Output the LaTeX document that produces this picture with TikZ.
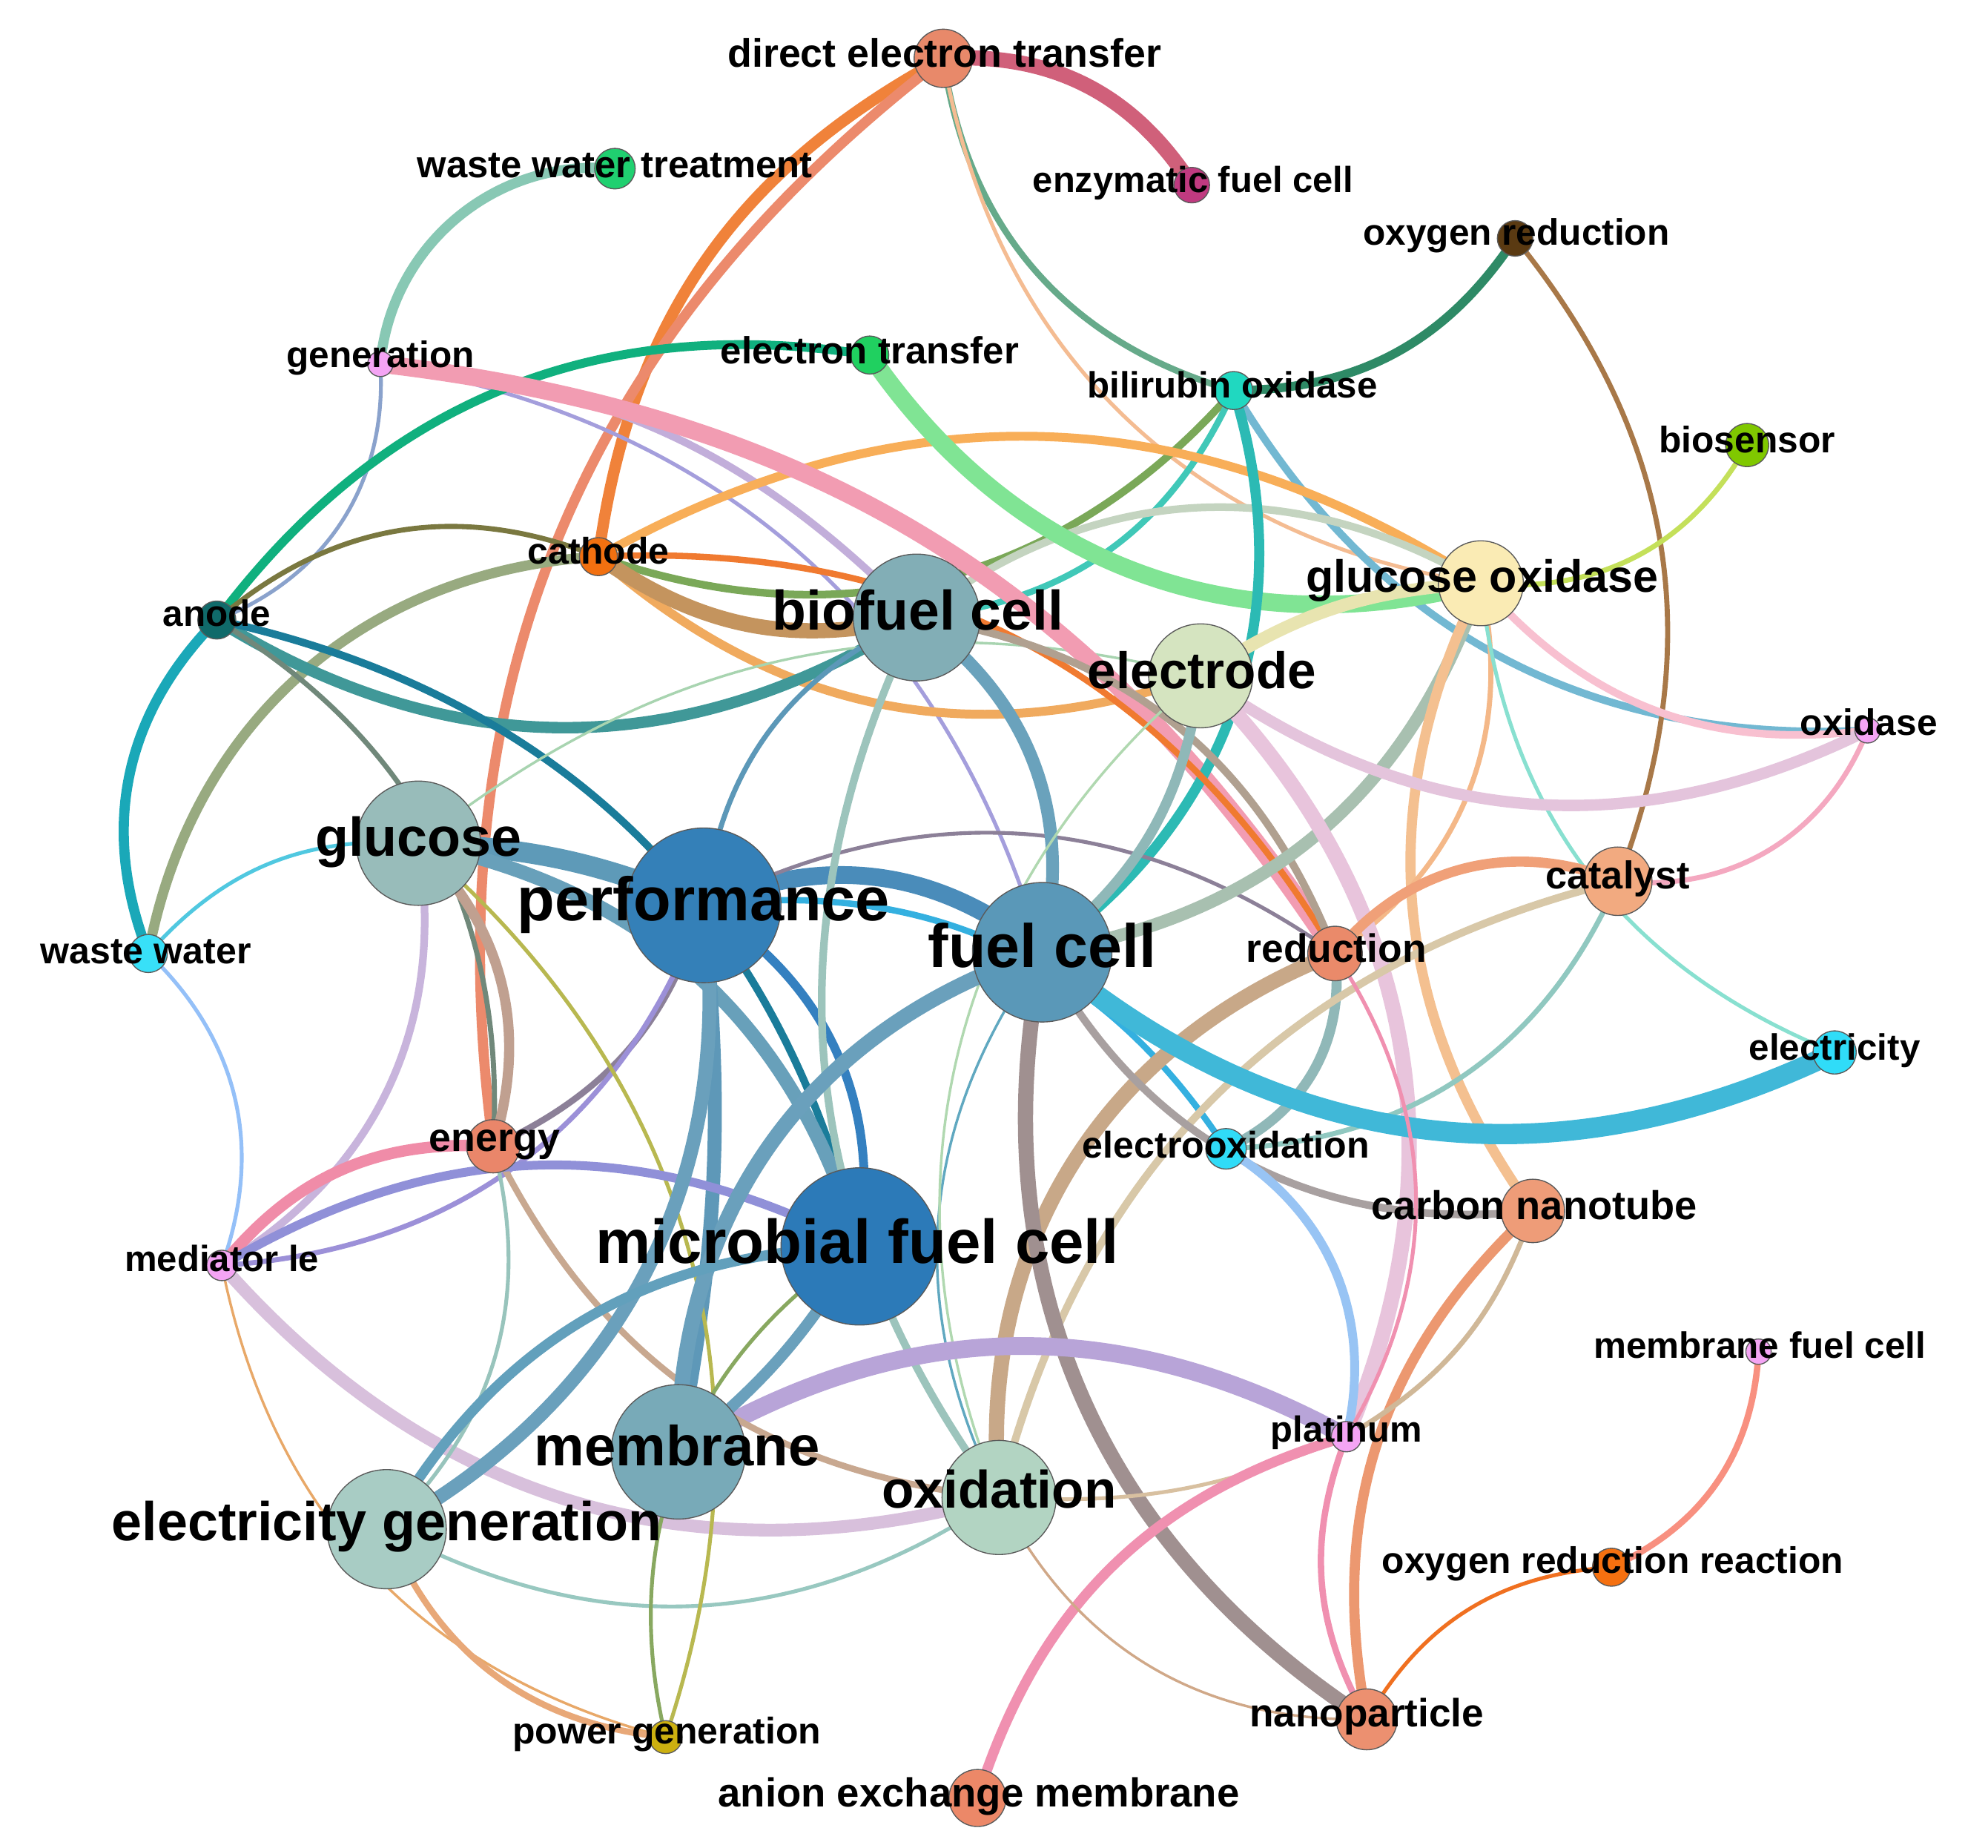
\documentclass[tikz,border=0pt]{standalone}
\usepackage{fontspec}
\setmainfont{Liberation Sans}
\definecolor{nodeline}{HTML}{5A5A5A}
\pgfdeclarelayer{bg}
\pgfdeclarelayer{edges}
\pgfdeclarelayer{labels}
\pgfsetlayers{bg,edges,main,labels}
\tikzset{
  kw/.style={circle, draw=nodeline, line width=0.8pt, inner sep=0pt, outer sep=0pt},
  lab/.style={inner sep=0pt, outer sep=0pt, text=black, anchor=base},
  ed/.style={line cap=butt},
}
\newcommand\kwnode[5]{\definecolor{ncol}{HTML}{#5}\node[kw, fill=ncol, minimum size=#4pt] (#1) at (#2,-#3) {};}
\newcommand\kwlabel[5]{\node[lab, font=\fontsize{#4}{#4}\selectfont\bfseries] (#1-l) at (#2,-#3) {#5};}
\newcommand\kwedge[5]{\definecolor{ecol}{HTML}{#1}\draw[ed, draw=ecol, line width=#2pt] (#3.center) to[#5] (#4.center);}
\begin{document}
\begin{tikzpicture}[x=1pt,y=1pt]
\begin{pgfonlayer}{bg}
\fill[white] (0,0) rectangle (1568,-1457);
\end{pgfonlayer}
\useasboundingbox (0,0) rectangle (1568,-1457);
% nodes
\kwnode{det}{744}{46}{46}{E8896A}
\kwnode{efc}{940}{146}{28}{C03A80}
\kwnode{wwt}{485}{133}{32}{20D070}
\kwnode{oxr}{1195}{188}{28}{5A3A12}
\kwnode{gen}{300}{287}{20}{F4A4F4}
\kwnode{etr}{686}{280}{30}{20D060}
\kwnode{bo}{973}{308}{30}{20D8C0}
\kwnode{bios}{1378}{351}{34}{80C800}
\kwnode{cath}{472}{439}{30}{F27010}
\kwnode{anode}{171}{489}{30}{106A6A}
\kwnode{bfc}{723}{487}{100}{82AEB6}
\kwnode{gox}{1168}{460}{67}{FAEBB4}
\kwnode{elec}{947}{533}{82}{D5E4C0}
\kwnode{oxid}{1473}{576}{20}{F4A4F4}
\kwnode{gluc}{330}{665}{98}{98BCBA}
\kwnode{perf}{555}{714}{122}{3480B8}
\kwnode{fc}{822}{751}{110}{5A98B8}
\kwnode{cat}{1276}{695}{54}{F2AA80}
\kwnode{red}{1053}{752}{43}{EA8A6A}
\kwnode{ww}{117}{752}{30}{38E0F8}
\kwnode{elty}{1447}{830}{34}{30DCF8}
\kwnode{energy}{389}{904}{42}{EA866A}
\kwnode{eox}{967}{906}{32}{30DCF8}
\kwnode{cnt}{1209}{955}{50}{EE9C78}
\kwnode{med}{175}{998}{24}{F4A4F4}
\kwnode{mfc}{678}{983}{124}{2C7AB8}
\kwnode{mbfc}{1387}{1066}{20}{F4A4F4}
\kwnode{memb}{535}{1145}{106}{78AAB8}
\kwnode{plat}{1062}{1133}{24}{F4A4F4}
\kwnode{oxn}{788}{1181}{90}{B2D4C2}
\kwnode{elg}{305}{1206}{94}{A8CCC4}
\kwnode{orr}{1271}{1236}{30}{F57010}
\kwnode{pg}{525}{1370}{26}{CCB010}
\kwnode{nano}{1078}{1356}{48}{EC9070}
\kwnode{aem}{771}{1418}{45}{EC8868}
% edges
\begin{pgfonlayer}{edges}
\kwedge{D0607A}{12}{det}{efc}{bend left=30}
\kwedge{F0823A}{9}{det}{cath}{bend right=27}
\kwedge{EC8A6C}{8}{det}{energy}{bend right=30}
\kwedge{66AA8A}{5}{det}{bo}{bend right=33}
\kwedge{F4BC92}{3}{det}{gox}{bend right=36}
\kwedge{88C8B4}{8}{wwt}{gen}{bend right=45}
\kwedge{8AA2CC}{3}{gen}{anode}{bend left=36}
\kwedge{C2AEDA}{6}{gen}{bfc}{bend left=20}
\kwedge{A49EDC}{3}{gen}{fc}{bend left=32}
\kwedge{10B07E}{7}{anode}{etr}{bend left=31}
\kwedge{2E8A66}{7}{bo}{oxr}{bend right=28}
\kwedge{7AA858}{6}{cath}{bo}{bend right=34}
\kwedge{40C8B8}{5}{bo}{bfc}{bend left=30}
\kwedge{72B8D2}{6}{bo}{oxid}{bend right=31}
\kwedge{A87848}{4}{oxr}{cat}{bend left=30}
\kwedge{C4E05A}{4}{gox}{bios}{bend right=33}
\kwedge{7A7840}{4}{anode}{cath}{bend left=31}
\kwedge{F8AE58}{7}{cath}{gox}{bend left=31}
\kwedge{F0AA5E}{7}{cath}{elec}{bend right=30}
\kwedge{C4945E}{12}{cath}{bfc}{bend right=24}
\kwedge{C4D4C0}{6}{bfc}{gox}{bend left=34}
\kwedge{98AA80}{8}{ww}{cath}{bend left=38}
\kwedge{1AA8B8}{8}{anode}{ww}{bend right=33}
\kwedge{409898}{9}{anode}{bfc}{bend right=32}
\kwedge{1A7C9A}{6}{anode}{mfc}{bend left=32}
\kwedge{70887A}{4}{anode}{energy}{bend left=31}
\kwedge{50C8E0}{3}{ww}{gluc}{bend left=26}
\kwedge{94C0F8}{3}{ww}{med}{bend left=33}
\kwedge{A8D4B0}{2}{gluc}{elec}{bend left=26}
\kwedge{F29CB2}{14}{gen}{red}{bend left=25}
\kwedge{80E494}{14}{etr}{gox}{bend right=35}
\kwedge{2CBAB4}{8}{bo}{fc}{bend left=36}
\kwedge{F07A30}{5}{cath}{red}{bend left=31}
\kwedge{B0A090}{6}{bfc}{red}{bend left=30}
\kwedge{5E9AB8}{16}{gluc}{perf}{bend left=10}
\kwedge{68A0BA}{11}{gluc}{mfc}{bend left=31}
\kwedge{4A8CBA}{14}{perf}{fc}{bend left=31}
\kwedge{34B0E0}{5}{perf}{eox}{bend left=32}
\kwedge{8C8098}{3}{perf}{red}{bend left=31}
\kwedge{3480C0}{7}{perf}{mfc}{bend left=33}
\kwedge{5E98B8}{11}{perf}{memb}{bend left=8}
\kwedge{8C8098}{5}{perf}{energy}{bend left=24}
\kwedge{9C90D8}{4}{perf}{med}{bend left=33}
\kwedge{5C98B8}{4}{perf}{bfc}{bend left=29}
\kwedge{6AA2BC}{10}{bfc}{fc}{bend left=34}
\kwedge{9CC4BC}{6}{bfc}{oxn}{bend right=31}
\kwedge{E8E4B0}{10}{elec}{gox}{bend left=15}
\kwedge{A8C0B0}{10}{gox}{fc}{bend left=31}
\kwedge{F4C090}{8}{gox}{cnt}{bend right=31}
\kwedge{F4B888}{4}{gox}{red}{bend left=34}
\kwedge{88E0D0}{3}{gox}{elty}{bend right=31}
\kwedge{F8C0D0}{6}{gox}{oxid}{bend right=28}
\kwedge{E4C4DC}{9}{oxid}{elec}{bend left=31}
\kwedge{E8C4DC}{12}{elec}{plat}{bend left=34}
\kwedge{8FB8B8}{8}{elec}{fc}{bend left=22}
\kwedge{90B8B8}{8}{red}{eox}{bend left=36}
\kwedge{F0A078}{8}{red}{cat}{bend left=36}
\kwedge{D8C8A8}{6}{cat}{oxn}{bend right=31}
\kwedge{C8A888}{12}{red}{oxn}{bend right=37}
\kwedge{F4A8C0}{4}{cat}{oxid}{bend right=37}
\kwedge{90C8C0}{4}{cat}{eox}{bend left=32}
\kwedge{40B8D8}{16}{fc}{elty}{bend right=33}
\kwedge{A09090}{12}{fc}{nano}{bend right=34}
\kwedge{A8A0A0}{6}{fc}{cnt}{bend right=34}
\kwedge{60A8C0}{2}{fc}{oxn}{bend right=31}
\kwedge{B0D8B0}{2}{elec}{oxn}{bend right=36}
\kwedge{98C4F4}{7}{eox}{plat}{bend left=36}
\kwedge{F090B0}{3}{red}{plat}{bend left=32}
\kwedge{F090B0}{5}{plat}{nano}{bend right=25}
\kwedge{EC9870}{8}{cnt}{nano}{bend right=29}
\kwedge{D0B898}{4}{cnt}{plat}{bend left=20}
\kwedge{D8C0A0}{3}{oxn}{plat}{bend right=13}
\kwedge{B8A4D8}{14}{memb}{plat}{bend left=30}
\kwedge{F090B0}{8}{aem}{plat}{bend left=28}
\kwedge{F89080}{5}{orr}{mbfc}{bend right=31}
\kwedge{F07020}{3}{orr}{nano}{bend right=28}
\kwedge{D0A888}{2}{oxn}{nano}{bend right=32}
\kwedge{D8C0DC}{10}{med}{oxn}{bend right=32}
\kwedge{98C8C0}{3}{elg}{oxn}{bend right=31}
\kwedge{C8A890}{5}{energy}{oxn}{bend right=29}
\kwedge{98C4BC}{3}{energy}{elg}{bend left=30}
\kwedge{C0A090}{8}{gluc}{energy}{bend left=31}
\kwedge{C8B4DC}{6}{gluc}{med}{bend left=34}
\kwedge{B8B850}{3}{gluc}{pg}{bend left=34}
\kwedge{F08CA8}{9}{med}{energy}{bend left=27}
\kwedge{9090D8}{7}{med}{mfc}{bend left=29}
\kwedge{E8A868}{2}{med}{pg}{bend right=32}
\kwedge{E8A878}{5}{elg}{pg}{bend right=31}
\kwedge{88A860}{3}{mfc}{pg}{bend right=35}
\kwedge{6AA0BC}{9}{mfc}{memb}{bend left=10}
\kwedge{6AA0BC}{12}{fc}{memb}{bend right=36}
\kwedge{6AA0BC}{11}{elg}{perf}{bend right=34}
\kwedge{62A0BC}{8}{elg}{mfc}{bend left=29}
\end{pgfonlayer}
% labels
\begin{pgfonlayer}{labels}
\kwlabel{det}{745}{53}{31.4}{direct electron transfer}
\kwlabel{efc}{941}{152}{28.6}{enzymatic fuel cell}
\kwlabel{wwt}{485}{140}{29.7}{waste water treatment}
\kwlabel{oxr}{1196}{193}{29}{oxygen reduction}
\kwlabel{gen}{300}{290}{29}{generation}
\kwlabel{etr}{686}{287}{29.8}{electron transfer}
\kwlabel{bo}{972}{314}{28.8}{bilirubin oxidase}
\kwlabel{bios}{1378}{357}{29.1}{biosensor}
\kwlabel{cath}{472}{445}{29.2}{cathode}
\kwlabel{anode}{171}{494}{28.9}{anode}
\kwlabel{bfc}{724}{497}{43.9}{biofuel cell}
\kwlabel{gox}{1169}{467}{35.7}{glucose oxidase}
\kwlabel{elec}{948}{543}{40.5}{electrode}
\kwlabel{oxid}{1474}{580}{29}{oxidase}
\kwlabel{gluc}{330}{675}{43.1}{glucose}
\kwlabel{perf}{555}{726}{48.5}{performance}
\kwlabel{fc}{822}{763}{48.3}{fuel cell}
\kwlabel{cat}{1276}{701}{30.6}{catalyst}
\kwlabel{red}{1054}{759}{31.2}{reduction}
\kwlabel{ww}{115}{760}{29.3}{waste water}
\kwlabel{elty}{1447}{836}{28.9}{electricity}
\kwlabel{energy}{390}{908}{31.4}{energy}
\kwlabel{eox}{967}{913}{29.3}{electrooxidation}
\kwlabel{cnt}{1210}{962}{31.7}{carbon nanotube}
\kwlabel{med}{175}{1003}{28.7}{mediator le}
\kwlabel{mfc}{676}{996}{48.8}{microbial fuel cell}
\kwlabel{mbfc}{1388}{1071}{28.9}{membrane fuel cell}
\kwlabel{memb}{534}{1156}{44.5}{membrane}
\kwlabel{plat}{1062}{1137}{28.6}{platinum}
\kwlabel{oxn}{788}{1189}{41.6}{oxidation}
\kwlabel{elg}{305}{1215}{43.1}{electricity generation}
\kwlabel{orr}{1272}{1241}{29.1}{oxygen reduction reaction}
\kwlabel{pg}{526}{1375}{29.2}{power generation}
\kwlabel{nano}{1078}{1362}{31.1}{nanoparticle}
\kwlabel{aem}{772}{1425}{31.9}{anion exchange membrane}
\end{pgfonlayer}
\end{tikzpicture}
\end{document}
